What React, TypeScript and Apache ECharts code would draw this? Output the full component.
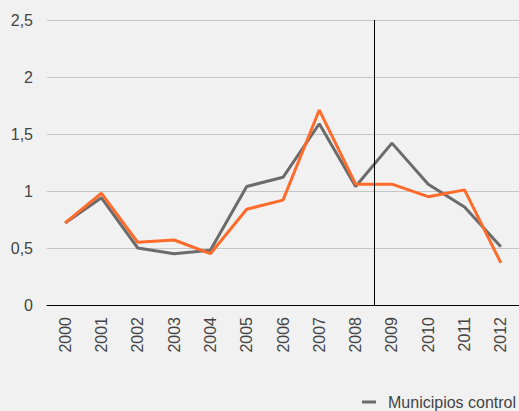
import React, { useEffect, useRef } from "react";
import * as echarts from "echarts";

const years = ["2000","2001","2002","2003","2004","2005","2006","2007","2008","2009","2010","2011","2012"];
const controlValues = [0.72, 0.94, 0.5, 0.45, 0.48, 1.04, 1.12, 1.59, 1.04, 1.42, 1.06, 0.86, 0.51];
const treatedValues = [0.72, 0.98, 0.55, 0.57, 0.45, 0.84, 0.92, 1.71, 1.06, 1.06, 0.95, 1.01, 0.37];
const yTicks = { min: 0, max: 2.5, interval: 0.5 };
const dividerPosition = [8.5];
const controlName = "Municipios control";
const treatedName = "Municipios tratados";

export default function App() {
  const ref = useRef<HTMLDivElement>(null);
  useEffect(() => {
    document.body.style.margin = "0";
    const chart = echarts.init(ref.current!, null, { renderer: "svg" });
    const font = "'Liberation Sans', Arial, Helvetica, sans-serif";
    chart.setOption({
      animation: false,
      backgroundColor: "#f1f1f1",
      textStyle: { fontFamily: font },
      grid: { left: 47, width: 473, top: 20, height: 285, containLabel: false },
      legend: {
        data: [controlName],
        left: 357,
        top: 389,
        icon: "rect",
        itemWidth: 14,
        itemHeight: 3,
        textStyle: { fontSize: 16, color: "#444", fontFamily: font, padding: [0, 0, 0, 7] },
      },
      xAxis: [
        {
          type: "category",
          data: years,
          boundaryGap: true,
          axisLine: { lineStyle: { color: "#000", width: 1 } },
          axisTick: { show: false },
          axisLabel: { rotate: 90, margin: 12, fontSize: 16, color: "#444", fontFamily: font },
          splitLine: { show: false },
        },
        {
          type: "value",
          min: -0.5,
          max: years.length - 0.5,
          show: false,
          splitLine: { show: false },
        },
      ],
      yAxis: {
        type: "value",
        min: yTicks.min,
        max: yTicks.max,
        interval: yTicks.interval,
        axisLine: { show: false },
        axisTick: { show: false },
        axisLabel: {
          margin: 14,
          fontSize: 16,
          color: "#444",
          fontFamily: font,
          formatter: (v: number) => String(v).replace(".", ","),
        },
        splitLine: { lineStyle: { color: "#c6c6c6", width: 1 } },
      },
      series: [
        {
          name: controlName,
          type: "line",
          data: controlValues,
          symbol: "none",
          lineStyle: { color: "#6b6b6b", width: 3 },
          itemStyle: { color: "#6b6b6b" },
        },
        {
          name: treatedName,
          type: "line",
          data: treatedValues,
          symbol: "none",
          lineStyle: { color: "#ff6b2b", width: 3 },
          itemStyle: { color: "#ff6b2b" },
        },
        {
          name: "divider",
          type: "line",
          xAxisIndex: 1,
          data: [],
          markLine: {
            silent: true,
            symbol: "none",
            label: { show: false },
            lineStyle: { color: "#000", width: 1, type: "solid" },
            data: dividerPosition.map((x) => ({ xAxis: x })),
          },
        },
      ],
    });
    return () => chart.dispose();
  }, []);
  return <div ref={ref} style={{ position: "absolute", left: 0, top: 0, width: 519, height: 411 }} />;
}
